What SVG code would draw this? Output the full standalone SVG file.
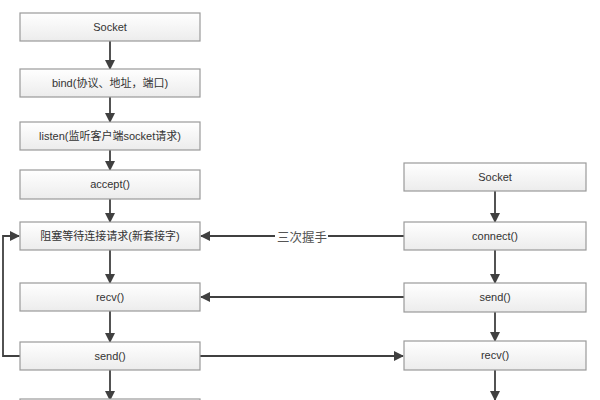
<svg xmlns="http://www.w3.org/2000/svg" width="600" height="400" viewBox="0 0 600 400">
<defs>
<linearGradient id="g" x1="0" y1="0" x2="0" y2="1">
<stop offset="0" stop-color="#ffffff"/>
<stop offset="1" stop-color="#ececec"/>
</linearGradient>
<marker id="ah" markerWidth="10" markerHeight="10" refX="9" refY="5" orient="auto" markerUnits="userSpaceOnUse">
<path d="M0,0 L10,5 L0,10 Z" fill="#404040"/>
</marker>
</defs>
<style>
.box{fill:url(#g);stroke:#9a9a9a;stroke-width:1.2}
.t{font-family:"Liberation Sans","Noto Sans CJK SC",sans-serif;font-size:11px;fill:#333;text-anchor:middle;dominant-baseline:central}
.c{stroke:#404040;stroke-width:1.8;fill:none;marker-end:url(#ah)}
.cl{stroke:#404040;stroke-width:1.8;fill:none}
.lbl{font-family:"Noto Sans CJK SC",sans-serif;font-size:12.5px;fill:#555;dominant-baseline:central}
</style>
<rect width="600" height="400" fill="#fff"/>
<g id="connectors">
<line class="c" x1="110" y1="41" x2="110" y2="69"/>
<line class="c" x1="110" y1="97" x2="110" y2="122"/>
<line class="c" x1="110" y1="150" x2="110" y2="170"/>
<line class="c" x1="110" y1="199" x2="110" y2="222"/>
<line class="c" x1="110" y1="250" x2="110" y2="283"/>
<line class="c" x1="110" y1="311" x2="110" y2="342"/>
<line class="c" x1="110" y1="370" x2="110" y2="400"/>
<line class="c" x1="495" y1="191" x2="495" y2="222"/>
<line class="c" x1="495" y1="250" x2="495" y2="283"/>
<line class="c" x1="495" y1="312" x2="495" y2="341"/>
<line class="c" x1="495" y1="370" x2="495" y2="400"/>
<line class="cl" x1="404" y1="236" x2="328" y2="236"/>
<text class="lbl" x="277" y="236">三次握手</text>
<line class="c" x1="275" y1="236" x2="201" y2="236"/>
<line class="c" x1="404" y1="297" x2="201" y2="297"/>
<line class="c" x1="200" y1="356" x2="403" y2="356"/>
<polyline class="c" points="20,356 3,356 3,236 19,236"/>
</g>
<g id="s_socket"><rect class="box" x="20" y="13" width="180" height="28"/><text class="t" x="110" y="27">Socket</text></g>
<g id="s_bind"><rect class="box" x="20" y="69" width="180" height="28"/><text class="t" x="110" y="83">bind(协议、地址，端口)</text></g>
<g id="s_listen"><rect class="box" x="20" y="122" width="180" height="28"/><text class="t" x="110" y="136">listen(监听客户端socket请求)</text></g>
<g id="s_accept"><rect class="box" x="20" y="170" width="180" height="29"/><text class="t" x="110" y="184">accept()</text></g>
<g id="s_block"><rect class="box" x="20" y="222" width="180" height="28"/><text class="t" x="110" y="236">阻塞等待连接请求(新套接字)</text></g>
<g id="s_recv"><rect class="box" x="20" y="283" width="180" height="28"/><text class="t" x="110" y="297">recv()</text></g>
<g id="s_send"><rect class="box" x="20" y="342" width="180" height="28"/><text class="t" x="110" y="356">send()</text></g>
<g id="s_next"><rect class="box" x="20" y="399" width="180" height="10"/></g>
<g id="c_socket"><rect class="box" x="404" y="163" width="182" height="28"/><text class="t" x="495" y="177">Socket</text></g>
<g id="c_connect"><rect class="box" x="404" y="222" width="182" height="28"/><text class="t" x="495" y="236">connect()</text></g>
<g id="c_send"><rect class="box" x="404" y="283" width="182" height="29"/><text class="t" x="495" y="297">send()</text></g>
<g id="c_recv"><rect class="box" x="404" y="341" width="182" height="29"/><text class="t" x="495" y="355">recv()</text></g>
</svg>
